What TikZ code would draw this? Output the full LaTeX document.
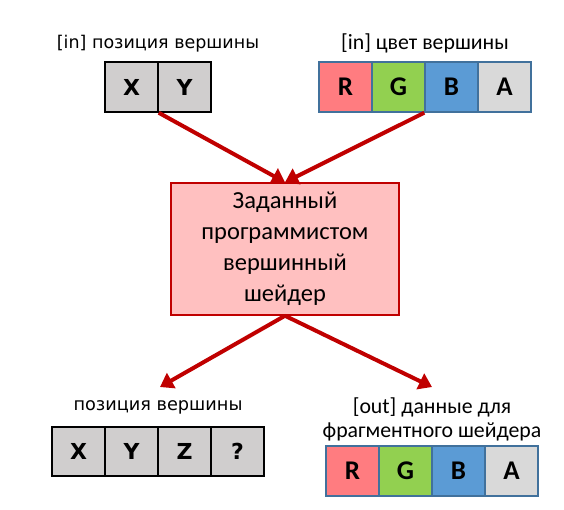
\documentclass[tikz,border=0pt]{standalone}
\usepackage{fontspec}
\setmainfont{Carlito}
\newfontfamily\dvs{DejaVu Sans}
\usetikzlibrary{arrows.meta}
\definecolor{cR}{HTML}{FF7C80}
\definecolor{cG}{HTML}{92D050}
\definecolor{cB}{HTML}{5B9BD5}
\definecolor{cA}{HTML}{D9D9D9}
\definecolor{cgray}{HTML}{D0CECE}
\definecolor{cblue}{HTML}{41719C}
\definecolor{cred}{HTML}{C00000}
\definecolor{cpink}{HTML}{FFC0C0}
\tikzset{
  cell/.style={draw, line width=1.5pt, minimum width=53pt, minimum height=50pt, inner sep=0pt, font=\fontsize{27}{30}\selectfont\bfseries},
  graycell/.style={cell, fill=cgray, draw=black, font=\dvs\fontsize{22}{26}\selectfont\bfseries},
  colcell/.style={cell, draw=cblue},
  lbl/.style={inner sep=0pt, align=center},
  arr/.style={draw=cred, line width=4pt, -{Triangle[length=13pt,width=17pt]}},
  shader/.style={draw=cred, fill=cpink, line width=1.5pt, minimum width=228pt, minimum height=132pt, align=center, font=\fontsize{24.5}{31}\selectfont}
}
\begin{document}
\begin{tikzpicture}[x=1pt,y=-1pt]
\useasboundingbox (0,0) rectangle (564,509);
% top-left
\node[graycell] (tx) at (131.5,87) {X};
\node[graycell] (ty) at (184.5,87) {Y};
\node[lbl, font=\dvs\fontsize{17.5}{20}\selectfont] (tlbl) at (158,44) {[in] позиция вершины};
% top-right
\node[colcell, fill=cR] (tr) at (345.5,87) {R};
\node[colcell, fill=cG] (tg) at (398.5,87) {G};
\node[colcell, fill=cB] (tb) at (451.5,87) {B};
\node[colcell, fill=cA] (ta) at (504.5,87) {A};
\node[lbl, font=\fontsize{21.8}{24}\selectfont] (trlbl) at (425,43) {[in] цвет вершины};
% center
\node[shader] (sh) at (285,249) {Заданный\\программистом\\вершинный\\шейдер};
% bottom-left
\node[graycell, minimum height=49pt] (bx) at (78.5,451.5) {X};
\node[graycell, minimum height=49pt] (by) at (131.5,451.5) {Y};
\node[graycell, minimum height=49pt] (bz) at (184.5,451.5) {Z};
\node[graycell, minimum height=49pt] (bq) at (237.5,451.5) {?};
\node[lbl, font=\dvs\fontsize{17.7}{20}\selectfont] (bllbl) at (158,407) {позиция вершины};
% bottom-right
\node[colcell, fill=cR] (br) at (352.5,471) {R};
\node[colcell, fill=cG] (bg) at (405.5,471) {G};
\node[colcell, fill=cB] (bb) at (458.5,471) {B};
\node[colcell, fill=cA] (ba) at (511.5,471) {A};
\node[lbl, font=\fontsize{21.8}{24}\selectfont] (brlbl) at (432,419) {[out] данные для\\фрагментного шейдера};
% arrows
\coordinate (e1) at (160,387);
\coordinate (e2) at (432,387);
\draw[arr] (tx.south east) -- (sh.north);
\draw[arr] (tb.south west) -- (sh.north);
\draw[arr] (sh.south) -- (e1);
\draw[arr] (sh.south) -- (e2);
\end{tikzpicture}
\end{document}
